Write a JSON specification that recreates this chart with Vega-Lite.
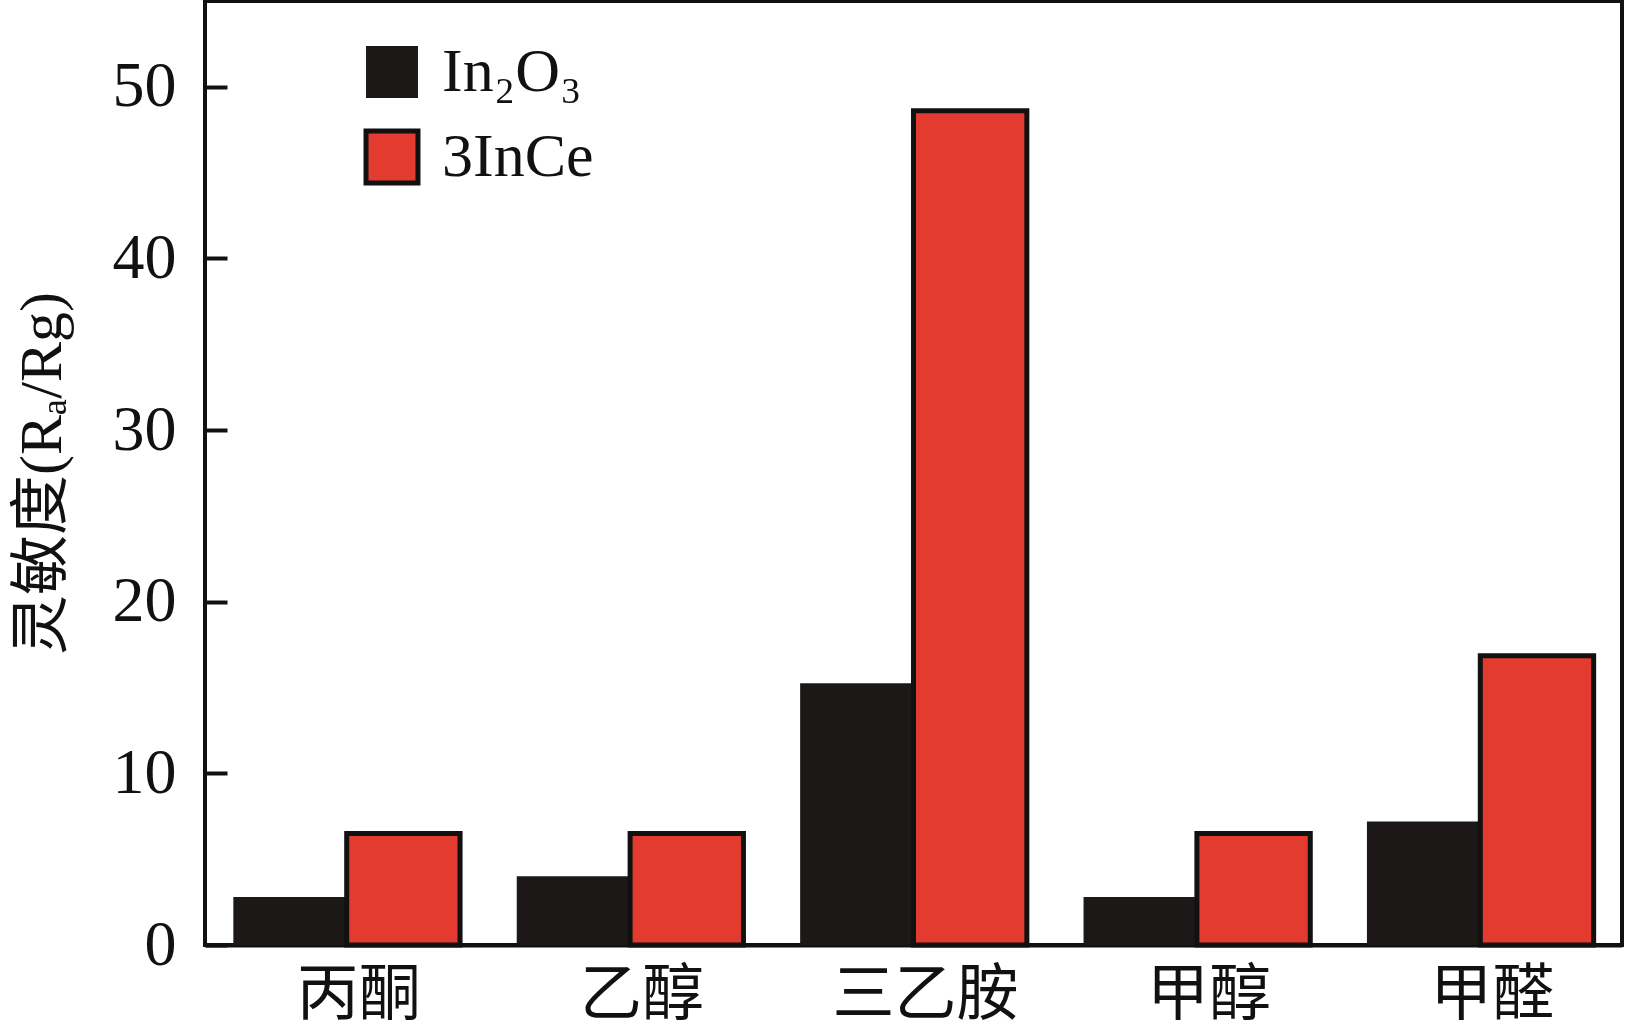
{
  "$schema": "https://vega.github.io/schema/vega-lite/v6.json",
  "width": 1417,
  "height": 944,
  "autosize": {"type": "none"},
  "padding": {"left": 205, "top": 1, "right": 3, "bottom": 82},
  "background": "white",
  "config": {
    "view": {"stroke": "#111111", "strokeWidth": 4},
    "font": "Liberation Serif, Noto Sans CJK SC"
  },
  "data": {
    "values": [
      {"gas": "丙酮", "series": "In₂O₃", "value": 2.8},
      {"gas": "丙酮", "series": "3InCe", "value": 6.5},
      {"gas": "乙醇", "series": "In₂O₃", "value": 4.0},
      {"gas": "乙醇", "series": "3InCe", "value": 6.5},
      {"gas": "三乙胺", "series": "In₂O₃", "value": 15.25},
      {"gas": "三乙胺", "series": "3InCe", "value": 48.6},
      {"gas": "甲醇", "series": "In₂O₃", "value": 2.8},
      {"gas": "甲醇", "series": "3InCe", "value": 6.5},
      {"gas": "甲醛", "series": "In₂O₃", "value": 7.2},
      {"gas": "甲醛", "series": "3InCe", "value": 16.85}
    ]
  },
  "mark": {"type": "bar", "stroke": "#111111"},
  "encoding": {
    "x": {
      "field": "gas",
      "type": "nominal",
      "sort": ["丙酮", "乙醇", "三乙胺", "甲醇", "甲醛"],
      "scale": {"paddingInner": 0.2, "paddingOuter": 0.1},
      "axis": {
        "title": null,
        "labelAngle": 0,
        "labelFontSize": 62,
        "labelLimit": 0,
        "labelColor": "#111111",
        "labelPadding": 20,
        "labelOffset": 12,
        "ticks": false,
        "domainColor": "#111111",
        "domainWidth": 4,
        "labelFont": "Liberation Serif, Noto Sans CJK SC"
      }
    },
    "xOffset": {
      "field": "series",
      "type": "nominal",
      "sort": ["In₂O₃", "3InCe"]
    },
    "y": {
      "field": "value",
      "type": "quantitative",
      "scale": {"domain": [0, 55], "nice": false},
      "axis": {
        "values": [0, 10, 20, 30, 40, 50],
        "title": "灵敏度(Rₐ/Rg)",
        "titleFontSize": 60,
        "titleFontWeight": "normal",
        "titleColor": "#111111",
        "titlePadding": 39,
        "labelFontSize": 64,
        "labelColor": "#111111",
        "labelPadding": 29,
        "offset": -22,
        "domain": false,
        "ticks": true,
        "tickSize": 22,
        "tickWidth": 4,
        "tickColor": "#111111",
        "grid": false,
        "zindex": 1
      }
    },
    "fill": {
      "field": "series",
      "type": "nominal",
      "scale": {"domain": ["In₂O₃", "3InCe"], "range": ["#1c1818", "#e33b2f"]},
      "legend": {
        "title": null,
        "orient": "none",
        "legendX": 156,
        "legendY": 40,
        "symbolType": "square",
        "symbolSize": 2700,
        "symbolStrokeColor": "#111111",
        "symbolStrokeWidth": 5,
        "symbolOpacity": 1,
        "labelFontSize": 62,
        "labelColor": "#111111",
        "labelOffset": 19,
        "rowPadding": 18,
        "labelFont": "Liberation Serif, Noto Sans CJK SC"
      }
    },
    "strokeWidth": {
      "field": "series",
      "type": "ordinal",
      "scale": {"domain": ["In₂O₃", "3InCe"], "range": [0, 5]},
      "legend": null
    }
  }
}
